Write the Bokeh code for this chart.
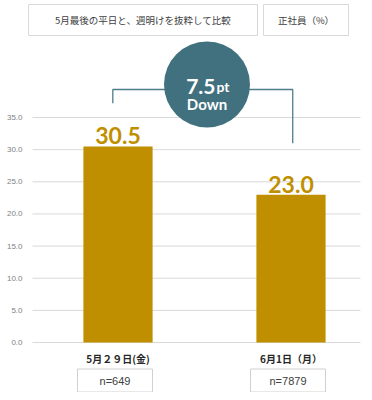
from bokeh.plotting import figure
from bokeh.models import Range1d
from bokeh.core.properties import value
from bokeh.embed import file_html
from bokeh.resources import INLINE

# ---- data ----
categories = ["5月２９日(金)", "6月1日（月）"]
sample_sizes = ["n=649", "n=7879"]
rates = [30.5, 23.0]
rate_labels = ["30.5", "23.0"]
y_ticks = [0, 5, 10, 15, 20, 25, 30, 35]
y_tick_labels = ["0.0", "5.0", "10.0", "15.0", "20.0", "25.0", "30.0", "35.0"]
title_left = "5月最後の平日と、週明けを抜粋して比較"
title_right = "正社員（%）"
diff_value = "7.5"
diff_unit = "pt"
diff_word = "Down"

# ---- layout helpers (pixel layout -> data space) ----
W, H = 364, 392
X0, DX = 117.5, 173.0        # pixel of category 0, px per category step
Y0, K = 342.0, 225.0 / 35.0  # pixel of y=0, px per percent


def dx(px):
    return (px - X0) / DX


def dy(py):
    return (Y0 - py) / K


xs = list(range(len(categories)))

p = figure(width=W, height=H, output_backend="svg", toolbar_location=None,
           x_range=Range1d(dx(0), dx(W)), y_range=Range1d(dy(H), dy(0)),
           x_axis_location=None, y_axis_location=None, min_border=0)
p.grid.visible = False
p.outline_line_color = None
p.background_fill_color = "white"

BAR = "#bf8f00"
TEAL = "#41717f"
TXT = "#404040"

# gridlines
p.segment(x0=[dx(32)] * len(y_ticks), x1=[dx(360)] * len(y_ticks),
          y0=y_ticks, y1=y_ticks, line_color="#d9d9d9", line_width=1)
# y tick labels
p.text(x=[dx(22)] * len(y_ticks), y=y_ticks, text=y_tick_labels,
       text_align="right", text_baseline="middle", text_font_size="8px",
       text_font=value("Liberation Sans"), text_color="#7f7f7f")

# bars
p.vbar(x=xs, top=rates, width=0.4, fill_color=BAR, line_color=None)
# value labels
p.text(x=xs, y=[r + 10.5 / K for r in rates], text=rate_labels,
       text_align="center", text_baseline="alphabetic", text_font_size="23px",
       text_font=value("Lato"), text_font_style="bold", text_color=BAR)

# bracket + circle
cx = (xs[0] + xs[1]) / 2 + 2.5 / DX
cy = dy(84)
by = cy - 5 / K
p.line(x=[xs[0] - 0.03, xs[0] - 0.03, cx], y=[rates[0] + 6.7, by, by],
       line_color="#4f7d8a", line_width=1.3)
p.line(x=[cx, xs[1] + 0.01, xs[1] + 0.01], y=[by, by, rates[1] + 8.0],
       line_color="#4f7d8a", line_width=1.3)
p.scatter(x=[cx], y=[cy], size=86, marker="circle", fill_color=TEAL, line_color=None)
p.text(x=[cx + 8.5 / DX], y=[cy - 1.5 / K], text=[diff_value], text_align="right",
       text_baseline="alphabetic", text_font_size="21px", text_font=value("Lato"),
       text_font_style="bold", text_color="white")
p.text(x=[cx + 9.5 / DX], y=[cy - 1.5 / K], text=[diff_unit], text_align="left",
       text_baseline="alphabetic", text_font_size="14px", text_font=value("Lato"),
       text_font_style="bold", text_color="white")
p.text(x=[cx], y=[cy - 19 / K], text=[diff_word], text_align="center",
       text_baseline="alphabetic", text_font_size="15px", text_font=value("Lato"),
       text_font_style="bold", text_color="white")

# header boxes
p.quad(left=[dx(28), dx(263)], right=[dx(257), dx(348)], top=[dy(4), dy(4)],
       bottom=[dy(35), dy(35)], fill_color="white", line_color="#d9d9d9", line_width=1)
p.text(x=[dx((28 + 257) / 2), dx((263 + 348) / 2)], y=[dy(19.5), dy(19.5)],
       text=[title_left, title_right], text_align="center", text_baseline="middle",
       text_font_size="9.5px", text_font=value("Noto Sans CJK JP"), text_color=TXT)

# category labels
p.text(x=xs, y=[dy(358)] * len(xs), text=categories, text_align="center",
       text_baseline="middle", text_font_size="10px", text_font=value("Noto Sans CJK JP"),
       text_font_style="bold", text_color="#262626")

# n= boxes
p.rect(x=[x - 3 / DX for x in xs], y=[dy(380)] * len(xs), width=75 / DX, height=23 / K,
       fill_color="white", line_color="#d0d0d0", line_width=1)
p.text(x=[x - 3 / DX for x in xs], y=[dy(380)] * len(xs), text=sample_sizes,
       text_align="center", text_baseline="middle", text_font_size="11px",
       text_font=value("Liberation Sans"), text_color=TXT)

open("out.html", "w").write(file_html(p, INLINE))
